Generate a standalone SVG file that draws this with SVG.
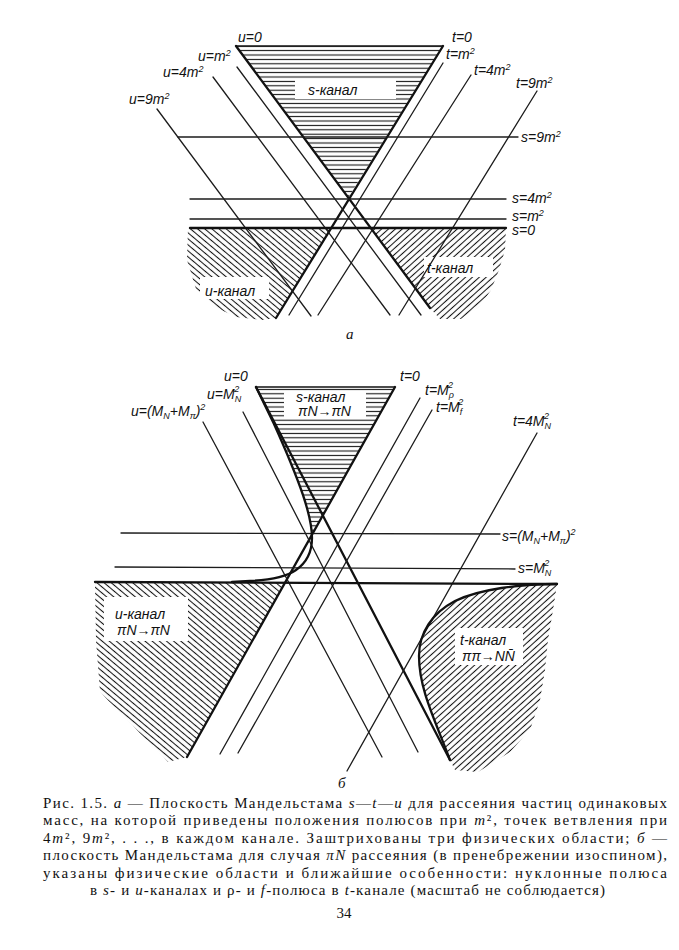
<svg xmlns="http://www.w3.org/2000/svg" width="679" height="950" viewBox="0 0 679 950">
<style>
.ln{stroke:#1c1c1c;stroke-width:1.3;fill:none;stroke-linecap:round}
.bd{stroke:#111;stroke-width:2.3;fill:none;stroke-linecap:round}
.tp{stroke:#111;stroke-width:1.7;fill:none}
.lb{font-family:"Liberation Sans",Arial,sans-serif;font-style:italic;font-size:14px;fill:#111}
.sp{font-size:9px}
.cap{font-family:"Liberation Serif","Times New Roman",serif;font-size:15px;fill:#111}
.it{font-style:italic}
.gap{fill:#fff}
</style>
<defs>
<pattern id="hH" patternUnits="userSpaceOnUse" width="10" height="4.4"><line x1="0" y1="2.2" x2="10" y2="2.2" stroke="#111" stroke-width="1.1"/></pattern>
<pattern id="hB" patternUnits="userSpaceOnUse" width="10" height="4.6" patternTransform="rotate(40)"><line x1="0" y1="2.3" x2="10" y2="2.3" stroke="#111" stroke-width="1.05"/></pattern>
<pattern id="hF" patternUnits="userSpaceOnUse" width="10" height="4.6" patternTransform="rotate(-42)"><line x1="0" y1="2.3" x2="10" y2="2.3" stroke="#111" stroke-width="1.05"/></pattern>
</defs>
<rect width="679" height="950" fill="#fff"/>

<!-- Diagram a -->
<g id="a-regions">
<polygon points="236,46 443,46 348,198" fill="url(#hH)"/>
<polygon points="188,228 332,228 276,318 262,320 236,317 213,306 196,289 187,260" fill="url(#hB)"/>
<polygon points="371,228 506,228 505,250 499,270 491,290 479,307 461,319 440,319 430,308" fill="url(#hF)"/>
<rect class="gap" x="295" y="79" width="101" height="20"/>
<rect class="gap" x="200" y="277" width="69" height="22"/>
<rect class="gap" x="424" y="257" width="69" height="20"/>
</g>
<g id="a-lines">
<line class="tp" x1="236" y1="46" x2="443" y2="46"/>
<line class="bd" x1="236" y1="46" x2="430" y2="308"/>
<line class="bd" x1="443" y1="46" x2="276" y2="318"/>
<line class="ln" x1="237" y1="67" x2="421" y2="315"/>
<line class="ln" x1="213" y1="77" x2="390" y2="315"/>
<line class="ln" x1="157" y1="109" x2="311" y2="316"/>
<line class="ln" x1="443" y1="63" x2="289" y2="315"/>
<line class="ln" x1="471" y1="75" x2="318" y2="315"/>
<line class="ln" x1="537" y1="91" x2="399" y2="315"/>
<line class="ln" x1="178" y1="137" x2="518" y2="137"/>
<line class="ln" x1="190" y1="199" x2="506" y2="199"/>
<line class="ln" x1="190" y1="219" x2="506" y2="219"/>
<line class="bd" x1="190" y1="228" x2="506" y2="228"/>
</g>
<g id="a-labels">
<text class="lb" x="238" y="42">u=0</text>
<text class="lb" x="198" y="61">u=m<tspan class="sp" dy="-5">2</tspan></text>
<text class="lb" x="163" y="77">u=4m<tspan class="sp" dy="-5">2</tspan></text>
<text class="lb" x="129" y="104">u=9m<tspan class="sp" dy="-5">2</tspan></text>
<text class="lb" x="452" y="42">t=0</text>
<text class="lb" x="446" y="59">t=m<tspan class="sp" dy="-5">2</tspan></text>
<text class="lb" x="474" y="75">t=4m<tspan class="sp" dy="-5">2</tspan></text>
<text class="lb" x="516" y="88">t=9m<tspan class="sp" dy="-5">2</tspan></text>
<text class="lb" x="521" y="142">s=9m<tspan class="sp" dy="-5">2</tspan></text>
<text class="lb" x="512" y="203">s=4m<tspan class="sp" dy="-5">2</tspan></text>
<text class="lb" x="512" y="221">s=m<tspan class="sp" dy="-5">2</tspan></text>
<text class="lb" x="512" y="235">s=0</text>
<text class="lb" x="308" y="95" font-size="15">s-канал</text>
<text class="lb" x="205" y="296" font-size="15">u-канал</text>
<text class="lb" x="427" y="273" font-size="15">t-канал</text>
<text class="cap it" x="346" y="339" font-size="17">а</text>
</g>

<!-- Diagram b -->
<g id="b-regions">
<path d="M256,387 L395,387 L311.5,535 C312,527 309,513 303,495 C295,472 283,444 274,424 Z" fill="url(#hH)"/>
<polygon points="95,582 285,582 187,757 168,762 100,692 96,640" fill="url(#hB)"/>
<path d="M557,584 L553,610 L548,640 L545,670 L540,700 L530,730 L510,752 L478,772 L455,770 L450,760 C436,722 419,690 419,656 C419,633 432,613 455,601 C480,589 520,584 557,584 Z" fill="url(#hF)"/>
<rect class="gap" x="284" y="391" width="82" height="28"/>
<rect class="gap" x="104" y="597" width="84" height="44"/>
<rect class="gap" x="455" y="628" width="68" height="37"/>
</g>
<g id="b-lines">
<line class="tp" x1="256" y1="387" x2="395" y2="387"/>
<line class="bd" x1="256" y1="387" x2="450" y2="760"/>
<line class="bd" x1="395" y1="387" x2="187" y2="757"/>
<line class="ln" x1="243" y1="412" x2="418" y2="752"/>
<line class="ln" x1="203" y1="422" x2="382" y2="757"/>
<line class="ln" x1="420" y1="398" x2="220" y2="754"/>
<line class="ln" x1="432" y1="410" x2="238" y2="753"/>
<line class="ln" x1="537" y1="433" x2="347" y2="771"/>
<line class="ln" x1="121" y1="533" x2="500" y2="534"/>
<line class="ln" x1="115" y1="567" x2="515" y2="569"/>
<line class="bd" x1="95" y1="582" x2="557" y2="584"/>
<path class="bd" d="M256,387 L274,424 C283,444 295,472 303,495 C309,513 312,527 312,538 C312,552 306,563 296,570 C286,577 270,580 250,581 L232,582"/>
<path class="bd" d="M557,584 C520,584 480,589 455,601 C432,613 419,633 419,656 C419,690 436,722 450,760"/>
</g>
<g id="b-labels">
<text class="lb" x="224" y="381">u=0</text>
<text class="lb" x="207" y="399">u=M<tspan class="sp" dy="3">N</tspan><tspan class="sp" dx="-7" dy="-10">2</tspan></text>
<text class="lb" x="131" y="416">u=(M<tspan class="sp" dy="3">N</tspan><tspan dy="-3">+M</tspan><tspan class="sp" dy="3">π</tspan><tspan dy="-3">)</tspan><tspan class="sp" dy="-6">2</tspan></text>
<text class="lb" x="296" y="402">s-канал</text>
<text class="lb" x="298" y="416">πN→πN</text>
<text class="lb" x="400" y="381">t=0</text>
<text class="lb" x="425" y="395">t=M<tspan class="sp" dy="3">ρ</tspan><tspan class="sp" dx="-6" dy="-10">2</tspan></text>
<text class="lb" x="436" y="412">t=M<tspan class="sp" dy="3">f</tspan><tspan class="sp" dx="-4" dy="-10">2</tspan></text>
<text class="lb" x="513" y="426">t=4M<tspan class="sp" dy="3">N</tspan><tspan class="sp" dx="-7" dy="-10">2</tspan></text>
<text class="lb" x="502" y="541">s=(M<tspan class="sp" dy="3">N</tspan><tspan dy="-3">+M</tspan><tspan class="sp" dy="3">π</tspan><tspan dy="-3">)</tspan><tspan class="sp" dy="-6">2</tspan></text>
<text class="lb" x="518" y="573">s=M<tspan class="sp" dy="3">N</tspan><tspan class="sp" dx="-7" dy="-10">2</tspan></text>
<text class="lb" x="115" y="619">u-канал</text>
<text class="lb" x="117" y="635">πN→πN</text>
<text class="lb" x="460" y="645">t-канал</text>
<text class="lb" x="462" y="661">ππ→NN̄</text>
<text class="cap it" x="338" y="788" font-size="17">б</text>
</g>

<!-- Caption -->
<g id="caption">
<text class="cap" x="43" y="808" textLength="624" lengthAdjust="spacing">Рис. 1.5. <tspan class="it">а</tspan> — Плоскость Мандельстама <tspan class="it">s</tspan>—<tspan class="it">t</tspan>—<tspan class="it">u</tspan> для рассеяния частиц одинаковых</text>
<text class="cap" x="43" y="825" textLength="624" lengthAdjust="spacing">масс, на которой приведены положения полюсов при <tspan class="it">m</tspan>², точек ветвления при</text>
<text class="cap" x="43" y="843" textLength="624" lengthAdjust="spacing">4<tspan class="it">m</tspan>², 9<tspan class="it">m</tspan>², . . ., в каждом канале. Заштрихованы три физических области; <tspan class="it">б</tspan> —</text>
<text class="cap" x="43" y="860" textLength="624" lengthAdjust="spacing">плоскость Мандельстама для случая <tspan class="it">πN</tspan> рассеяния (в пренебрежении изоспином),</text>
<text class="cap" x="43" y="878" textLength="624" lengthAdjust="spacing">указаны физические области и ближайшие особенности: нуклонные полюса</text>
<text class="cap" x="90" y="895" textLength="515" lengthAdjust="spacing">в <tspan class="it">s</tspan>- и <tspan class="it">u</tspan>-каналах и ρ- и <tspan class="it">f</tspan>-полюса в <tspan class="it">t</tspan>-канале (масштаб не соблюдается)</text>
<text class="cap" x="344" y="918" text-anchor="middle">34</text>
</g>
</svg>
